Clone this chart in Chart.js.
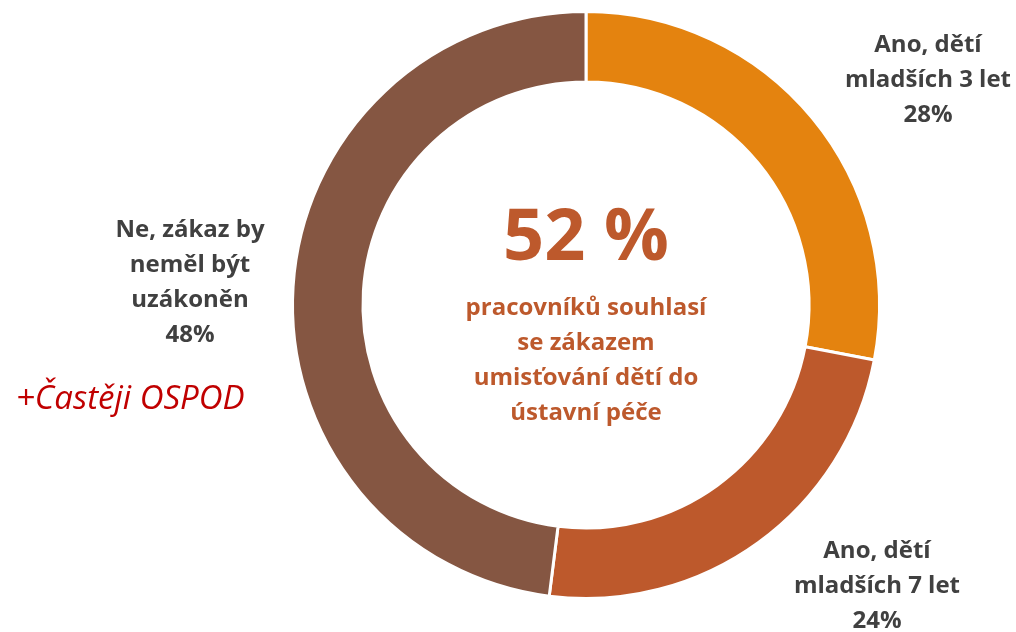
<!DOCTYPE html>
<html>
<head>
<meta charset="utf-8">
<script src="https://cdn.jsdelivr.net/npm/chart.js@4.4.0/dist/chart.umd.min.js"></script>
<style>
  html, body { margin: 0; padding: 0; background: #fff; }
  #wrap { width: 1016px; height: 632px; position: relative; }
</style>
</head>
<body>
<div id="wrap"><canvas id="donut" width="1016" height="632"></canvas></div>
<script>
// data
const categories = ["Ano, dětí mladších 3 let", "Ano, dětí mladších 7 let", "Ne, zákaz by neměl být uzákoněn"];
const values = [28, 24, 48];
const colors = ["#E4830F", "#BD592C", "#855642"];
const labelLines = [
    ["Ano, dětí", "mladších 3 let"],
    ["Ano, dětí", "mladších 7 let"],
    ["Ne, zákaz by", "neměl být", "uzákoněn"]
];
const centerValue = "52 %";
const centerText = ["pracovníků souhlasí", "se zákazem", "umisťování dětí do", "ústavní péče"];
const note = "+Častěji OSPOD";

const FONT = "'Open Sans', Lato, sans-serif";

// where each outside label sits (centre x, first line y)
const labelPos = [
    { x: 928, y: 45 },
    { x: 877, y: 551 },
    { x: 190, y: 230 }
];

const textPlugin = {
    id: "donutText",
    afterDraw(chart) {
        const ctx = chart.ctx;
        const arc = chart.getDatasetMeta(0).data[0];
        const cx = arc.x, cy = arc.y;
        ctx.save();
        ctx.textAlign = "center";
        ctx.textBaseline = "middle";

        // big number in the middle
        ctx.fillStyle = "#BD592C";
        ctx.font = "bold 72px " + FONT;
        ctx.fillText(centerValue, cx, cy - 66);
        ctx.font = "bold 24px " + FONT;
        centerText.forEach((t, i) => ctx.fillText(t, cx, cy + 3 + i * 35));

        // outside labels
        ctx.fillStyle = "#404040";
        ctx.font = "bold 24px " + FONT;
        labelLines.forEach((lines, i) => {
            const p = labelPos[i];
            const all = lines.concat([values[i] + "%"]);
            all.forEach((t, j) => ctx.fillText(t, p.x, p.y + j * 35));
        });

        // note
        ctx.fillStyle = "#C00000";
        ctx.textAlign = "left";
        ctx.font = "italic 33px " + FONT;
        ctx.fillText(note, 16, 400);
        ctx.restore();
    }
};

new Chart(document.getElementById("donut"), {
    type: "doughnut",
    data: {
        labels: categories,
        datasets: [{
            data: values,
            backgroundColor: colors,
            borderColor: "#ffffff",
            borderWidth: 3
        }]
    },
    options: {
        responsive: false,
        animation: false,
        cutout: "76%",
        layout: { padding: { top: 10, bottom: 32, left: 290, right: 134 } },
        plugins: {
            legend: { display: false },
            tooltip: { enabled: false }
        }
    },
    plugins: [textPlugin]
});
</script>
</body>
</html>
